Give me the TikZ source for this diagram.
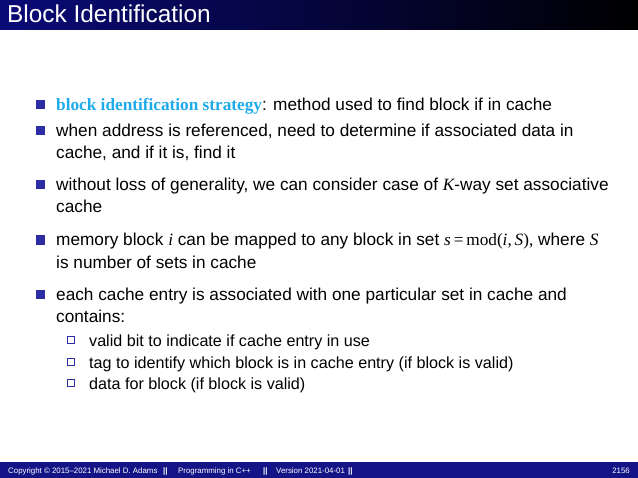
\documentclass[tikz,border=0pt]{standalone}
\usepackage{fontspec}
\setmainfont{Liberation Sans}
\newfontfamily\serif{Liberation Serif}
\definecolor{navy}{RGB}{10,10,120}
\definecolor{foot}{RGB}{20,20,135}
\definecolor{bul}{RGB}{45,45,165}
\definecolor{hl}{RGB}{30,170,235}
\newcommand{\mi}[1]{{\serif\itshape #1}}
\newcommand{\mr}[1]{{\serif #1}}
\begin{document}
\begin{tikzpicture}[x=1bp,y=-1bp,
  txt/.style={anchor=base west,inner sep=0,font=\fontsize{17.3}{20}\selectfont},
  stxt/.style={anchor=base west,inner sep=0,font=\fontsize{16.2}{19}\selectfont},
  sq/.style={fill=bul,minimum size=9bp,inner sep=0},
  osq/.style={draw=bul,line width=0.6bp,minimum size=7bp,inner sep=0},
  ft/.style={anchor=base west,inner sep=0,text=white,font=\fontsize{7.9}{9}\selectfont}]
\useasboundingbox (0,0) rectangle (638,478);
\shade[left color=navy,right color=black] (0,0) rectangle (638,30);
\node[anchor=base west,inner sep=0,text=white,font=\fontsize{24.5}{27}\selectfont] (title) at (7,23) {Block Identification};
% bullets
\node[sq] (b1) at (40,105) {};
\node[txt] (t1) at (56,111) {{\serif\bfseries\color{hl}block identification strategy}: method used to find block if in cache};
\node[sq] (b2) at (40,131) {};
\node[txt] (t2) at (56,137) {when address is referenced, need to determine if associated data in};
\node[txt] (t2b) at (56,159) {cache, and if it is, find it};
\node[sq] (b3) at (40,185) {};
\node[txt] (t3) at (56,191) {without loss of generality, we can consider case of \mi{K}-way set associative};
\node[txt] (t3b) at (56,213) {cache};
\node[sq] (b4) at (40,240) {};
\node[txt] (t4) at (56,246) {memory block \mi{i} can be mapped to any block in set \mi{s}\,\mr{=\,mod(}\mi{i}\mr{,\,}\mi{S}\mr{),} where \mi{S}};
\node[txt] (t4b) at (56,268) {is number of sets in cache};
\node[sq] (b5) at (40,294) {};
\node[txt] (t5) at (56,300) {each cache entry is associated with one particular set in cache and};
\node[txt] (t5b) at (56,322) {contains:};
\node[osq] (s1) at (71,340) {};
\node[stxt] (u1) at (89,346) {valid bit to indicate if cache entry in use};
\node[osq] (s2) at (71,362) {};
\node[stxt] (u2) at (89,368) {tag to identify which block is in cache entry (if block is valid)};
\node[osq] (s3) at (71,383) {};
\node[stxt] (u3) at (89,389) {data for block (if block is valid)};
% footer
\fill[foot] (0,462) rectangle (638,478);
\node[ft] (f1) at (8,473) {Copyright \textcopyright{} 2015--2021 Michael D. Adams};
\node[ft] (f2) at (163,473) {\textbf{||}};
\node[ft] (f3) at (178,473) {Programming in C++};
\node[ft] (f4) at (263,473) {\textbf{||}};
\node[ft] (f5) at (276,473) {Version 2021-04-01};
\node[ft] (f6) at (348,473) {\textbf{||}};
\node[ft,anchor=base east] (f7) at (630,473) {2156};
\end{tikzpicture}
\end{document}
